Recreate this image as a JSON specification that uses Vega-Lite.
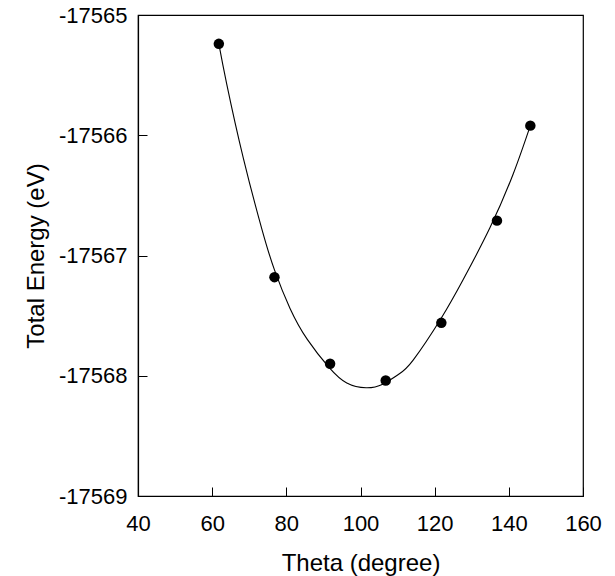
{
  "$schema": "https://vega.github.io/schema/vega-lite/v6.json",
  "width": 445,
  "height": 481,
  "autosize": {"type": "none"},
  "padding": {"left": 138, "top": 15, "right": 32, "bottom": 80},
  "background": "white",
  "config": {
    "view": {"stroke": "black", "strokeWidth": 1.2},
    "font": "Liberation Sans",
    "axis": {
      "grid": false,
      "domainColor": "black",
      "domainWidth": 1.2,
      "tickColor": "black",
      "tickWidth": 1,
      "labelColor": "black",
      "titleColor": "black",
      "labelFont": "Liberation Sans",
      "titleFont": "Liberation Sans",
      "labelFontSize": 22,
      "titleFontSize": 24,
      "titleFontWeight": "normal"
    }
  },
  "datasets": {
    "points": [
      {"theta": 61.8, "energy": -17565.24},
      {"theta": 76.8, "energy": -17567.18},
      {"theta": 91.8, "energy": -17567.90},
      {"theta": 106.8, "energy": -17568.04},
      {"theta": 121.8, "energy": -17567.56},
      {"theta": 136.8, "energy": -17566.71},
      {"theta": 145.8, "energy": -17565.92}
    ],
    "curve": [
      {"theta": 61.8, "energy": -17565.24},
      {"theta": 63.9, "energy": -17565.57},
      {"theta": 68.4, "energy": -17566.19},
      {"theta": 73.4, "energy": -17566.78},
      {"theta": 76.8, "energy": -17567.12},
      {"theta": 81.0, "energy": -17567.44},
      {"theta": 85.7, "energy": -17567.70},
      {"theta": 91.5, "energy": -17567.93},
      {"theta": 96.3, "energy": -17568.06},
      {"theta": 101.5, "energy": -17568.10},
      {"theta": 106.0, "energy": -17568.07},
      {"theta": 110.2, "energy": -17567.99},
      {"theta": 114.2, "energy": -17567.87},
      {"theta": 121.8, "energy": -17567.52},
      {"theta": 127.7, "energy": -17567.20},
      {"theta": 134.9, "energy": -17566.77},
      {"theta": 141.2, "energy": -17566.32},
      {"theta": 145.8, "energy": -17565.92}
    ]
  },
  "encoding": {
    "x": {
      "field": "theta",
      "type": "quantitative",
      "scale": {"domain": [40, 160], "nice": false, "zero": false},
      "axis": {
        "title": "Theta (degree)",
        "values": [40, 60, 80, 100, 120, 140, 160],
        "tickSize": -9,
        "labelPadding": 26,
        "labelFlush": false,
        "labelExpr": "'' + datum.value",
        "titleX": 222.5,
        "titleY": 74,
        "titleBaseline": "alphabetic",
        "titleAlign": "center"
      }
    },
    "y": {
      "field": "energy",
      "type": "quantitative",
      "scale": {"domain": [-17569, -17565], "nice": false, "zero": false},
      "axis": {
        "title": "Total Energy (eV)",
        "values": [-17569, -17568, -17567, -17566, -17565],
        "tickSize": -9,
        "labelPadding": 20,
        "labelFlush": false,
        "labelExpr": "'' + datum.value",
        "titleX": -95,
        "titleY": 240.5,
        "titleAngle": 270,
        "titleBaseline": "alphabetic",
        "titleAlign": "center"
      }
    }
  },
  "layer": [
    {
      "data": {"name": "curve"},
      "mark": {"type": "line", "interpolate": "natural", "color": "black", "strokeWidth": 1.1}
    },
    {
      "data": {"name": "points"},
      "mark": {"type": "point", "shape": "circle", "filled": true, "color": "black", "opacity": 1, "size": 110}
    }
  ]
}
